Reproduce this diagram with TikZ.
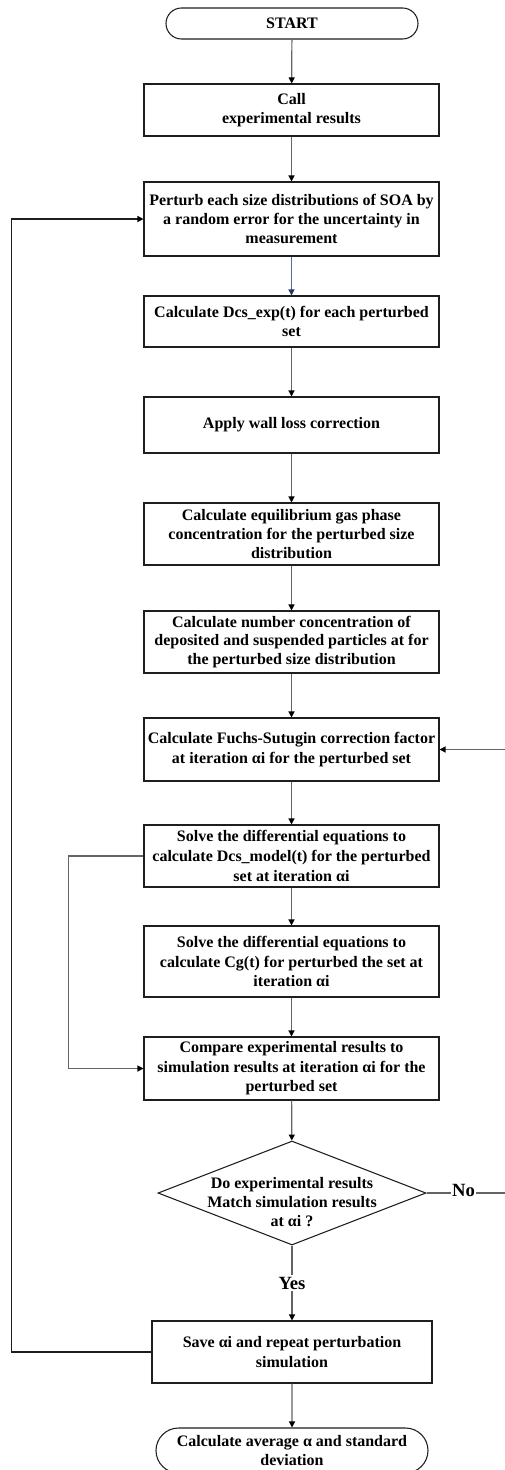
\documentclass[tikz,border=0pt]{standalone}
\usepackage{fontspec}
\setmainfont{Liberation Serif}
\usetikzlibrary{arrows.meta,shapes.geometric,shapes.misc}
\definecolor{conncol}{RGB}{100,100,100}
\definecolor{bluecol}{RGB}{79,108,160}
\definecolor{navycol}{RGB}{31,56,100}
\definecolor{boxcol}{RGB}{30,30,30}
\newcommand{\pxu}{0.75pt}
\tikzset{
  box/.style={draw=boxcol, line width=0.8pt, rectangle, align=center, inner sep=0pt,
    minimum width=295*\pxu, font=\bfseries\fontsize{12pt}{14pt}\selectfont},
  term/.style={draw=boxcol, line width=0.8pt, rounded rectangle, align=center, inner sep=0pt,
    font=\bfseries\fontsize{12pt}{14pt}\selectfont},
  decbox/.style={draw=boxcol, line width=0.8pt, diamond, inner sep=0pt,
    minimum width=268*\pxu, minimum height=104*\pxu},
  txt/.style={align=center, inner sep=0pt, font=\bfseries\fontsize{12pt}{14.5pt}\selectfont},
  lbl/.style={fill=white, inner sep=1pt, font=\bfseries\fontsize{14pt}{16pt}\selectfont},
  conn/.style={draw=conncol, line width=0.9pt, -{Triangle[length=4.5pt,width=4.5pt,color=black]}},
  plain/.style={draw=conncol, line width=0.9pt},
  loopline/.style={draw=boxcol, line width=0.9pt, -{Triangle[length=4.5pt,width=4.5pt,color=black]}},
  bluearrow/.style={draw=bluecol, line width=0.9pt, -{Triangle[length=4.5pt,width=4.5pt,color=navycol]}}
}
\begin{document}
\begin{tikzpicture}[x=0.75pt,y=-0.75pt]
\useasboundingbox (0,0) rectangle (505,1470);
\clip (0,0) rectangle (505,1470);
\fill[white] (0,0) rectangle (505,1470);

\node[term, minimum width=252*\pxu, minimum height=31*\pxu] (start) at (292,23.5) {START};
\node[box, minimum height=52*\pxu] (call) at (291.5,110) {Call\\experimental results};
\node[box, minimum height=74*\pxu] (perturb) at (291.5,219) {Perturb each size distributions of SOA by\\a random error for the uncertainty in\\measurement};
\node[box, minimum height=51*\pxu] (dcs) at (291.5,321.5) {Calculate Dcs\_exp(t) for each perturbed\\set};
\node[box, minimum height=56*\pxu] (wall) at (291.5,425) {Apply wall loss correction};
\node[box, minimum height=62*\pxu] (equil) at (291.5,534) {Calculate equilibrium gas phase\\concentration for the perturbed size\\distribution};
\node[box, minimum height=62*\pxu] (numc) at (291.5,642) {Calculate number concentration of\\deposited and suspended particles at for\\the perturbed size distribution};
\node[box, minimum height=63*\pxu, font=\bfseries\fontsize{12pt}{15pt}\selectfont] (fuchs) at (291.5,749.5) {Calculate Fuchs-Sutugin correction factor\\at iteration αi for the perturbed set};
\node[box, minimum height=62*\pxu, font=\bfseries\fontsize{12pt}{15pt}\selectfont] (sdcs) at (291.5,856) {Solve the differential equations to\\calculate Dcs\_model(t) for the perturbed\\set at iteration αi};
\node[box, minimum height=71*\pxu, font=\bfseries\fontsize{12pt}{14.8pt}\selectfont] (scg) at (291.5,961.5) {Solve the differential equations to\\calculate Cg(t) for perturbed the set at\\iteration αi};
\node[box, minimum height=63*\pxu, font=\bfseries\fontsize{12pt}{14.7pt}\selectfont] (comp) at (291.5,1068.5) {Compare experimental results to\\simulation results at iteration αi for the\\perturbed set};
\node[decbox] (dec) at (292,1193) {};
\node[txt] (dectext) at (292,1202) {Do experimental results\\Match simulation results\\at αi ?};
\node[box, minimum width=280*\pxu, minimum height=62*\pxu, font=\bfseries\fontsize{12pt}{14.5pt}\selectfont] (save) at (292,1352) {Save αi and repeat perturbation\\simulation};
\node[term, minimum width=272*\pxu, minimum height=45*\pxu, font=\bfseries\fontsize{12pt}{14.5pt}\selectfont] (end) at (292,1450.5) {Calculate average α and standard\\deviation};

\draw[conn] (start) -- (call);
\draw[conn] (call) -- (perturb);
\draw[bluearrow] (perturb) -- (dcs);
\draw[conn] (dcs) -- (wall);
\draw[conn] (wall) -- (equil);
\draw[conn] (equil) -- (numc);
\draw[conn] (numc) -- (fuchs);
\draw[conn] (fuchs) -- (sdcs);
\draw[conn] (sdcs) -- (scg);
\draw[conn] (scg) -- (comp);
\draw[conn] (comp) -- (dec);
\draw[conn] (dec) -- (save);
\draw[conn] (save) -- (end);
\draw[conn] (sdcs.west) -- ++(-75,0) |- (comp.west);
\draw[loopline] (save.west) -- ++(-140,0) |- (perturb.west);
\draw[conn] (dec.east) -- ++(82,0) |- (fuchs.east);

\node[lbl] (no) at (463.5,1190) {No};
\node[lbl] (yes) at (292,1283) {Yes};
\end{tikzpicture}
\end{document}
